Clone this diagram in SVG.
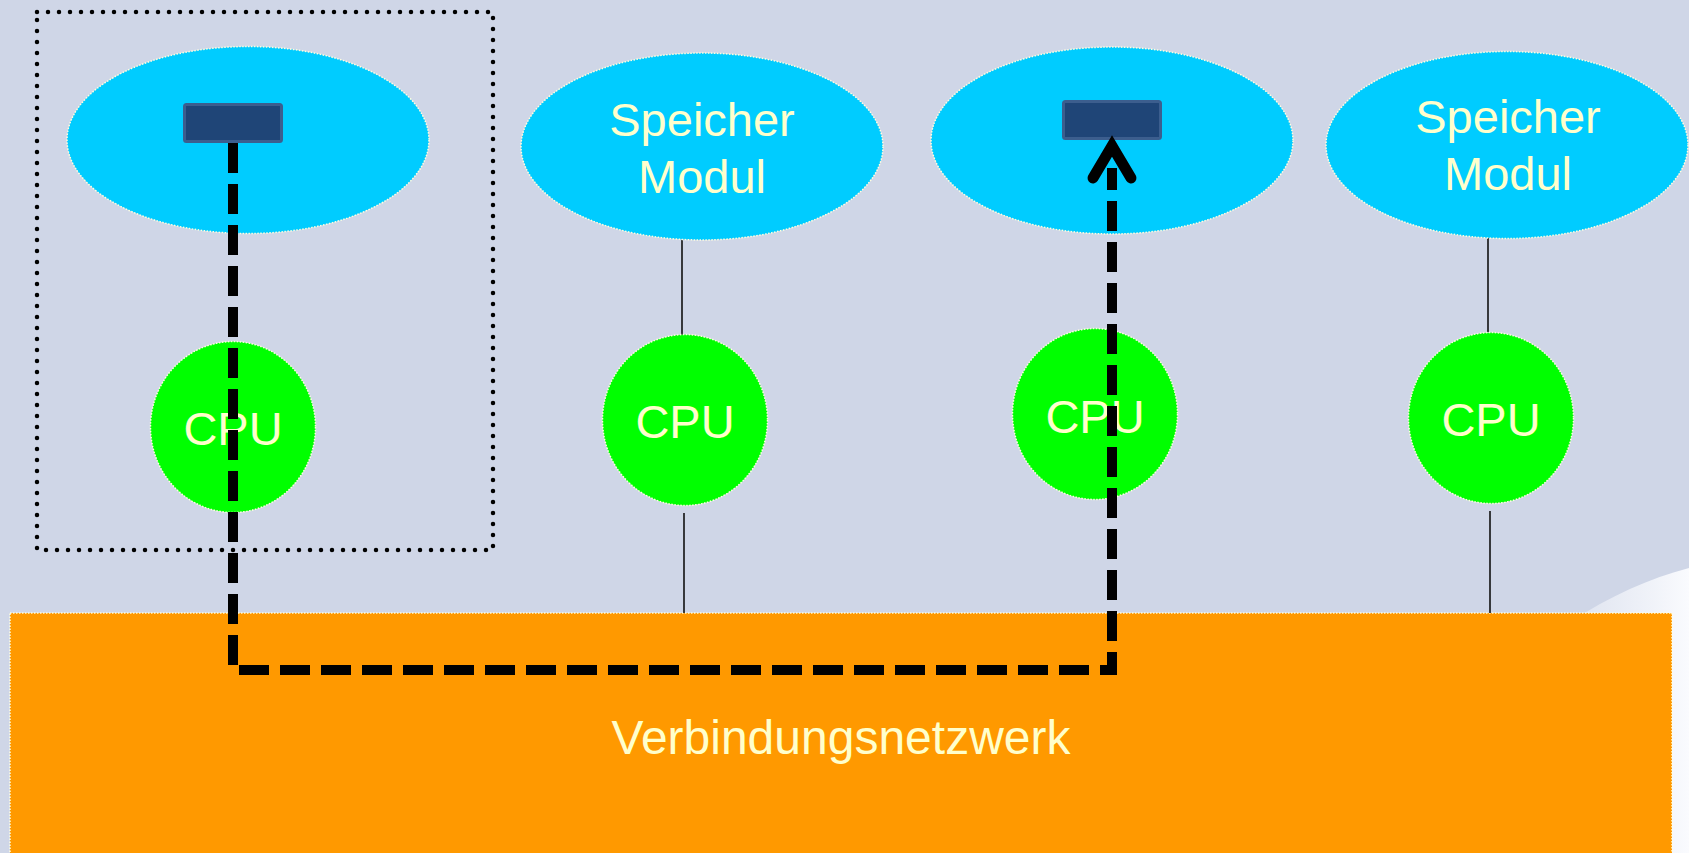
<svg xmlns="http://www.w3.org/2000/svg" width="1689" height="853" viewBox="0 0 1689 853">
<defs>
<style>
.mem{fill:#00CCFF;stroke:#FFFFE0;stroke-width:1.5;stroke-dasharray:1.5 1.5}
.cpu{fill:#00FF00;stroke:#FFFFE0;stroke-width:1.5;stroke-dasharray:1.5 1.5}
.lbl{font-family:"Liberation Sans",Arial,sans-serif;font-size:47px;fill:#FFFFCC;text-anchor:middle}
.chip{fill:#1F4577;stroke:#3C5E8E;stroke-width:3}
.thin{stroke:#111;stroke-width:1.6;fill:none}
.dash{stroke:#000;stroke-width:10;fill:none;stroke-dasharray:30 11}
</style>
<linearGradient id="sw" x1="0" y1="0" x2="1" y2="0">
<stop offset="0" stop-color="#EEF1F8" stop-opacity="0.5"/>
<stop offset="1" stop-color="#FAFBFE"/>
</linearGradient>
</defs>
<rect x="0" y="0" width="1689" height="853" fill="#CFD6E7"/>
<path d="M1689,568 C1650,578 1610,596 1570,622 L1570,853 L1689,853 Z" fill="url(#sw)"/>

<g id="node-box">
<rect x="37" y="12" width="456" height="538" fill="none" stroke="#000" stroke-width="4.5" stroke-linecap="round" stroke-dasharray="0 11"/>
</g>

<g id="node-network">
<rect x="10" y="613" width="1662" height="250" fill="#FF9900" stroke="#FFFFE0" stroke-width="1.5" stroke-dasharray="1.5 1.5"/>
<text class="lbl" x="841" y="754" style="font-size:48px">Verbindungsnetzwerk</text>
</g>

<g id="connectors">
<line class="thin" x1="682" y1="240" x2="682" y2="335"/>
<line class="thin" x1="684" y1="513" x2="684" y2="613"/>
<line class="thin" x1="1488" y1="238" x2="1488" y2="332"/>
<line class="thin" x1="1490" y1="511" x2="1490" y2="613"/>
</g>

<g id="node-mem1">
<ellipse class="mem" cx="248" cy="140" rx="181" ry="93.5"/>
<rect class="chip" x="184.5" y="104.5" width="97" height="37" rx="2"/>
</g>
<g id="node-mem2">
<ellipse class="mem" cx="702" cy="146.5" rx="181" ry="93.5"/>
<text class="lbl" x="702" y="136">Speicher</text>
<text class="lbl" x="702" y="193">Modul</text>
</g>
<g id="node-mem3">
<ellipse class="mem" cx="1112" cy="140.5" rx="181" ry="93.5"/>
<rect class="chip" x="1063.5" y="101.5" width="97" height="37" rx="2"/>
</g>
<g id="node-mem4">
<ellipse class="mem" cx="1507" cy="145" rx="181" ry="93.5"/>
<text class="lbl" x="1508" y="132.5">Speicher</text>
<text class="lbl" x="1508" y="190">Modul</text>
</g>

<g id="node-cpu1">
<ellipse class="cpu" cx="233" cy="427" rx="82.5" ry="85.5"/>
<text class="lbl" x="233" y="445">CPU</text>
</g>
<g id="node-cpu2">
<ellipse class="cpu" cx="685" cy="420" rx="82.5" ry="85.5"/>
<text class="lbl" x="685" y="438">CPU</text>
</g>
<g id="node-cpu3">
<ellipse class="cpu" cx="1095" cy="414" rx="82.5" ry="85.5"/>
<text class="lbl" x="1095" y="433">CPU</text>
</g>
<g id="node-cpu4">
<ellipse class="cpu" cx="1491" cy="418" rx="82.5" ry="85.5"/>
<text class="lbl" x="1491" y="436">CPU</text>
</g>

<g id="connector-access">
<path class="dash" d="M233,143 V670 H1112 V168"/>
<polyline points="1093,178 1112,146 1131,178" fill="none" stroke="#000" stroke-width="11" stroke-linecap="round" stroke-linejoin="miter"/>
</g>
</svg>
